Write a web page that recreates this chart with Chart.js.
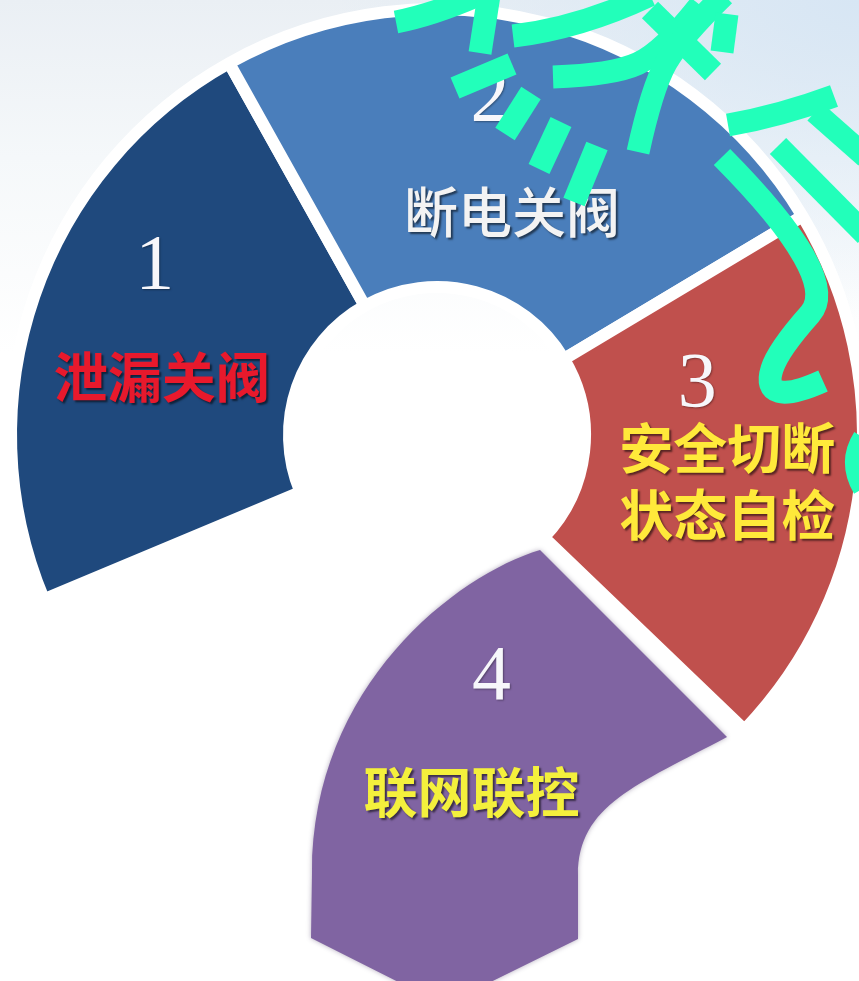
<!DOCTYPE html>
<html lang="zh">
<head>
<meta charset="utf-8">
<title>安全保护</title>
<script src="https://cdn.jsdelivr.net/npm/chart.js@4.4.1/dist/chart.umd.min.js"></script>
<style>
  html, body { margin: 0; padding: 0; width: 859px; height: 981px; overflow: hidden; }
  body {
    position: relative;
    background:
      radial-gradient(ellipse 520px 320px at 100% 0%, #d7e6f4 0%, rgba(255,255,255,0) 100%),
      linear-gradient(to bottom, #eaeff4 0%, #f5f8fa 16%, #ffffff 36%);
  }
  #grafico { position: absolute; left: 0; top: 0; }
</style>
</head>
<body>
<canvas id="grafico" width="874" height="981"></canvas>
<script>
// Dados do gráfico
const numeros = ['1', '2', '3', '4'];
const titulos = [['泄漏关阀'], ['断电关阀'], ['安全切断', '状态自检'], ['联网联控']];
const angulos = [83.5, 88.3, 74.7, 113.5]; // abertura de cada fatia em graus
const inicioGraus = 247.3; // onde começa a fatia 1 (a partir do topo)

// Estilo
const cores = ['#1f497d', '#4a7ebb', '#c0504d', 'rgba(0,0,0,0)'];
const corCauda = '#8064a2';
const coresTexto = ['#e8192c', '#f3f3f3', '#ffe93a', '#f4f03c'];
const RAIO = 426;
const FURO = 148;

// deslocamento do número e do texto a partir do centro de cada fatia
const posRotulo = [
    { num: [-11, -74], txt: [-4, 36] },
    { num: [-21, -58], txt: [1, 55] },
    { num: [-25, -82], txt: [5, -19] },
    { num: [107, -39], txt: [87, 75] }
];

// contorno da cauda roxa (o ponto de interrogação), relativo ao centro do anel
function caminhoCauda(ctx, cx, cy, k) {
    const p = (x, y) => [cx + x * k, cy + y * k];
    ctx.beginPath();
    ctx.moveTo(...p(103, 115));
    ctx.lineTo(...p(290, 302));
    ctx.bezierCurveTo(...p(200, 350), ...p(141, 370), ...p(141, 440));
    ctx.lineTo(...p(141, 504));
    ctx.lineTo(...p(7, 570));
    ctx.lineTo(...p(-126, 503));
    ctx.lineTo(...p(-125, 438));
    ctx.bezierCurveTo(...p(-125, 250), ...p(20, 140), ...p(103, 115));
    ctx.closePath();
}

// Marca d'água verde por cima
const tracos = [
    [[396, 22], [432, 15], [476, -4]],
    [[489, -5], [480, 53]],
    [[513, 36], [580, 28], [650, -5]],
    [[455, 88], [512, 64]],
    [[505, 134], [531, 93]],
    [[539, 169], [561, 122]],
    [[574, 202], [597, 146]],
    [[553, 77], [613, 75], [663, 52], [700, 5]],
    [[650, 10], [713, 72]],
    [[724, -5], [680, 38], [652, 88], [638, 152]],
    [[727, 14], [722, 52]],
    [[728, 125], [780, 116], [834, 96]],
    [[815, 112], [866, 157]],
    [[778, 146], [866, 235]],
    [[722, 157], [842, 278], [778, 350], [766, 388], [792, 395], [823, 381]],
    [[864, 438], [849, 462], [864, 488]]
];

const pluginCauda = {
    id: 'cauda',
    afterDatasetsDraw(chart) {
        const arco = chart.getDatasetMeta(0).data[3];
        const ctx = chart.ctx;
        const k = arco.outerRadius / RAIO;
        ctx.save();
        ctx.shadowColor = 'rgba(40,20,70,0.35)';
        ctx.shadowBlur = 5;
        caminhoCauda(ctx, arco.x, arco.y, k);
        ctx.fillStyle = corCauda;
        ctx.fill();
        ctx.restore();
    }
};

const pluginRotulos = {
    id: 'rotulos',
    afterDatasetsDraw(chart) {
        const ctx = chart.ctx;
        const fatias = chart.getDatasetMeta(0).data;
        ctx.save();
        ctx.textAlign = 'center';
        ctx.textBaseline = 'middle';
        for (let i = 0; i < fatias.length; i++) {
            const c = fatias[i].tooltipPosition();
            const pos = posRotulo[i];

            // número
            ctx.shadowColor = 'rgba(0,0,0,0.35)';
            ctx.shadowBlur = 2;
            ctx.shadowOffsetX = 1;
            ctx.shadowOffsetY = 1;
            ctx.fillStyle = '#f7f7fb';
            ctx.font = '78px "Liberation Serif", "DejaVu Serif", serif';
            ctx.fillText(numeros[i], c.x + pos.num[0], c.y + pos.num[1]);

            // texto
            ctx.shadowColor = 'rgba(0,0,0,0.55)';
            ctx.shadowBlur = 2;
            ctx.shadowOffsetX = 2;
            ctx.shadowOffsetY = 2;
            ctx.fillStyle = coresTexto[i];
            ctx.font = (i === 1 ? '500' : '700') + ' 54px "Noto Sans CJK SC", sans-serif';
            for (let j = 0; j < titulos[i].length; j++) {
                ctx.fillText(titulos[i][j], c.x + pos.txt[0], c.y + pos.txt[1] + j * 67);
            }
        }
        ctx.restore();
    }
};

const pluginMarca = {
    id: 'marca',
    afterDraw(chart) {
        const ctx = chart.ctx;
        ctx.save();
        ctx.strokeStyle = '#22ffba';
        ctx.lineWidth = 23;
        ctx.lineCap = 'butt';
        ctx.lineJoin = 'round';
        for (let t = 0; t < tracos.length; t++) {
            const pts = tracos[t];
            ctx.beginPath();
            ctx.moveTo(pts[0][0], pts[0][1]);
            if (pts.length === 2) {
                ctx.lineTo(pts[1][0], pts[1][1]);
            } else {
                // curva suave passando pelos pontos do meio
                for (let i = 1; i < pts.length - 1; i++) {
                    const mx = (pts[i][0] + pts[i + 1][0]) / 2;
                    const my = (pts[i][1] + pts[i + 1][1]) / 2;
                    if (i === pts.length - 2) {
                        ctx.quadraticCurveTo(pts[i][0], pts[i][1], pts[i + 1][0], pts[i + 1][1]);
                    } else {
                        ctx.quadraticCurveTo(pts[i][0], pts[i][1], mx, my);
                    }
                }
            }
            ctx.stroke();
        }
        ctx.restore();
    }
};

const contexto = document.getElementById('grafico').getContext('2d');
const grafico = new Chart(contexto, {
    type: 'doughnut',
    data: {
        labels: titulos.map(t => t.join('')),
        datasets: [{
            data: angulos,
            backgroundColor: cores,
            borderColor: '#ffffff',
            borderWidth: [12, 12, 12, 0],
            borderJoinStyle: 'bevel'
        }]
    },
    options: {
        responsive: false,
        animation: false,
        events: [],
        rotation: inicioGraus,
        radius: RAIO,
        cutout: (FURO / RAIO * 100) + '%',
        layout: { padding: { left: 0, right: 0, top: 0, bottom: 111 } },
        plugins: {
            legend: { display: false },
            tooltip: { enabled: false }
        }
    },
    plugins: [pluginCauda, pluginRotulos, pluginMarca]
});
</script>
</body>
</html>
